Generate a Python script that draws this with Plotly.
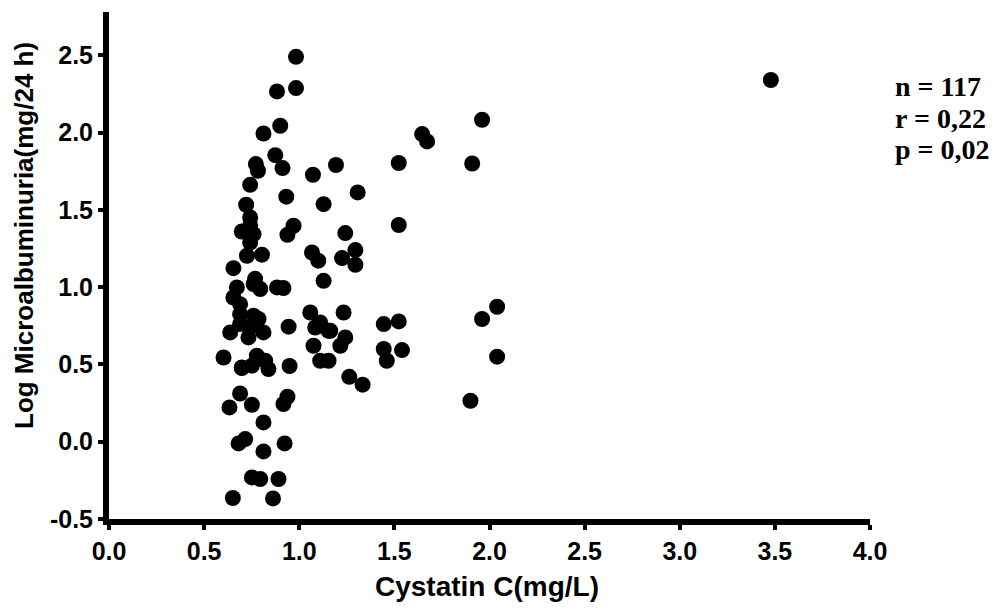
import plotly.graph_objects as go

# Cystatin C (mg/L)
cystatin = [
    0.983, 0.883, 0.983, 0.900, 0.812, 0.874, 0.772, 0.783, 0.912, 1.072,
    1.193, 0.742, 0.932, 1.128, 0.721, 0.742, 0.742, 0.698, 0.760, 0.742,
    0.970, 0.938, 0.725, 0.804, 1.067, 1.100, 0.654, 0.672, 0.760, 0.795,
    0.883, 0.917, 1.128, 0.654, 0.689, 0.689, 0.760, 0.786, 1.058, 1.110,
    1.084, 0.944, 0.637, 0.733, 0.812, 0.742, 1.075, 1.110, 0.602, 0.698,
    0.751, 0.777, 0.838, 0.821, 0.949, 0.689, 0.633, 0.751, 0.938, 0.917,
    0.812, 0.681, 0.716, 0.812, 0.923, 0.751, 0.795, 0.891, 0.651, 0.862,
    1.307, 1.242, 1.295, 1.225, 1.295, 1.233, 1.100, 1.154, 1.242, 1.216,
    1.154, 1.263, 1.333, 1.444, 1.523, 1.444, 1.540, 1.460, 1.523, 1.523,
    1.646, 1.672, 1.961, 1.909, 2.040, 1.961, 2.040, 1.900, 3.479, 0.768,
    0.689, 1.163, 0.698,
]
# Log Microalbuminuria (mg/24 h)
log_microalb = [
    2.490, 2.266, 2.288, 2.044, 1.994, 1.854, 1.796, 1.753, 1.770, 1.727,
    1.790, 1.662, 1.585, 1.537, 1.533, 1.451, 1.400, 1.360, 1.343, 1.289,
    1.397, 1.339, 1.203, 1.210, 1.224, 1.171, 1.123, 0.998, 1.020, 0.988,
    0.998, 0.994, 1.041, 0.933, 0.890, 0.761, 0.815, 0.794, 0.836, 0.772,
    0.739, 0.744, 0.707, 0.675, 0.707, 0.739, 0.621, 0.524, 0.545, 0.480,
    0.492, 0.556, 0.470, 0.524, 0.490, 0.312, 0.222, 0.239, 0.291, 0.244,
    0.125, -0.011, 0.017, -0.063, -0.011, -0.231, -0.241, -0.241, -0.364, -0.367,
    1.613, 1.350, 1.240, 1.188, 1.145, 0.836, 0.750, 0.718, 0.675, 0.621,
    0.524, 0.420, 0.369, 0.761, 0.778, 0.600, 0.593, 0.524, 1.803, 1.402,
    1.990, 1.943, 2.083, 1.800, 0.873, 0.794, 0.550, 0.265, 2.340, 1.054,
    0.826, 0.718, 0.477,
]

x_ticks = [0.0, 0.5, 1.0, 1.5, 2.0, 2.5, 3.0, 3.5, 4.0]
x_tick_labels = ["0.0", "0.5", "1.0", "1.5", "2.0", "2.5", "3.0", "3.5", "4.0"]
y_ticks = [-0.5, 0.0, 0.5, 1.0, 1.5, 2.0, 2.5]
y_tick_labels = ["-0.5", "0.0", "0.5", "1.0", "1.5", "2.0", "2.5"]

x_title = "Cystatin C(mg/L)"
y_title = "Log Microalbuminuria(mg/24 h)"
stats_lines = ["n = 117", "r = 0,22", "p = 0,02"]

# page body has an 8px margin; plot area in figure coordinates
L, R, T, B = 101, 138, 4, 97
W, H = 1000, 608
pw, ph = W - L - R, H - T - B

fig = go.Figure()
fig.add_trace(go.Scatter(
    x=cystatin, y=log_microalb, mode="markers",
    marker=dict(size=16, color="black", line=dict(width=0)),
    showlegend=False, cliponaxis=False,
))

tickfont = dict(family="Liberation Sans, Arial", size=25, color="black", weight="bold")

fig.update_xaxes(
    range=[0, 4], tickvals=x_ticks, ticktext=x_tick_labels,
    showgrid=False, zeroline=False,
    showline=True, linewidth=6, linecolor="black",
    ticks="outside", ticklen=5, tickwidth=4, tickcolor="black",
    tickfont=tickfont,
)
fig.update_yaxes(
    range=[-0.5, 2.78], tickvals=y_ticks, ticktext=y_tick_labels,
    showgrid=False, zeroline=False,
    showline=True, linewidth=6, linecolor="black",
    ticks="outside", ticklen=5, tickwidth=4, tickcolor="black",
    tickfont=tickfont,
)

# axis titles
fig.add_annotation(
    text=x_title, xref="paper", yref="paper",
    x=(479 - L) / pw, y=(H - B - 578) / ph,
    xanchor="center", yanchor="middle", showarrow=False,
    font=dict(family="Liberation Sans, Arial", size=28, color="black", weight="bold"),
)
fig.add_annotation(
    text=y_title, xref="paper", yref="paper", textangle=-90,
    x=(16 - L) / pw, y=(H - B - 228) / ph,
    xanchor="center", yanchor="middle", showarrow=False,
    font=dict(family="Liberation Sans, Arial", size=26, color="black", weight="bold"),
)

# statistics text
for i, line in enumerate(stats_lines):
    yc = 79 + i * 31.5
    fig.add_annotation(
        text=line, xref="paper", yref="paper",
        x=(885 - L) / pw, y=(H - B - yc) / ph,
        xanchor="left", yanchor="middle", showarrow=False,
        font=dict(family="Liberation Serif, Times New Roman", size=28, color="black", weight="bold"),
    )

fig.update_layout(
    width=W, height=H,
    margin=dict(l=L, r=R, t=T, b=B, autoexpand=False),
    paper_bgcolor="white", plot_bgcolor="white",
)

fig.write_html("out.html")
